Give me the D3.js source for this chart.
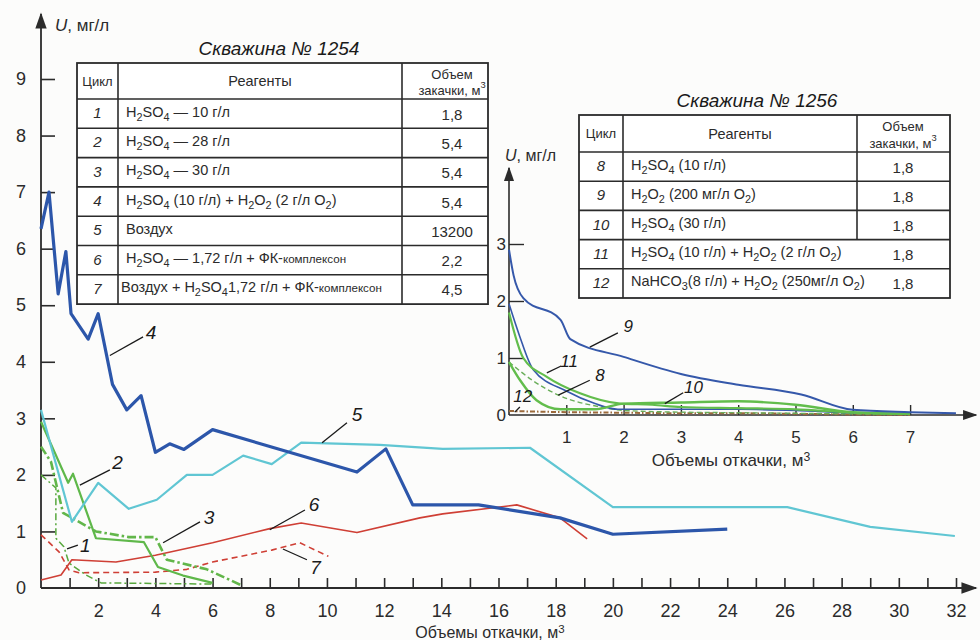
<!DOCTYPE html>
<html>
<head>
<meta charset="utf-8">
<script src="https://cdn.jsdelivr.net/npm/d3@7"></script>
<style>
  body { margin: 0; background: #fcfcfb; }
  svg { font-family: "Liberation Sans", Arial, sans-serif; }
</style>
</head>
<body>
<svg id="chart" width="980" height="640"></svg>
<script>
// ---- well 1254 (main chart), x = m3 pumped, y = U mg/l
var s1 = [[0,2.0],[0.52,1.77],[0.52,0.88],[0.8,0.73],[0.98,0.44],[1.57,0.23],[2.1,0.09],[4,0.08],[6,0.07]];
var s2 = [[0,2.94],[0.95,1.86],[1.12,2.02],[1.92,0.88],[3.6,0.81],[4.09,0.37],[4.97,0.22],[6,0.09]];
var s3 = [[0,2.5],[0.35,2.23],[0.77,1.33],[1.92,1.0],[3.07,0.9],[4.0,0.9],[4.4,0.5],[5.8,0.33],[7.0,0.05]];
var s4 = [[0,6.35],[0.28,7.0],[0.6,5.2],[0.87,5.95],[1.05,4.85],[1.65,4.4],[2.0,4.85],[2.5,3.6],[3.0,3.15],[3.5,3.4],[4.0,2.4],[4.5,2.55],[5.0,2.45],[6.0,2.8],[11.05,2.05],[12.06,2.46],[13.0,1.47],[15.3,1.47],[18.15,1.24],[20.0,0.95],[24.0,1.04]];
var s5 = [[0,3.15],[1.08,1.17],[2.0,1.86],[3.07,1.4],[4.05,1.56],[5.1,2.0],[6.0,2.0],[7.07,2.34],[8.07,2.19],[9.1,2.57],[11.85,2.53],[14.05,2.46],[17.1,2.48],[20.0,1.43],[26.1,1.43],[29.0,1.08],[31.96,0.92]];
var s6 = [[0,0.14],[0.7,0.23],[1.08,0.5],[2.62,0.46],[4.0,0.58],[6.0,0.8],[8.0,1.05],[9.1,1.15],[11.05,0.98],[13.25,1.24],[14.05,1.31],[16.64,1.47],[18.15,1.24],[19.1,0.87]];
var s7 = [[0,0.94],[0.63,0.64],[0.98,0.32],[1.33,0.27],[4.0,0.28],[5.1,0.33],[6.0,0.46],[8.07,0.67],[9.05,0.8],[10.05,0.56]];

// ---- well 1256 (inset chart)
var s8 = [[0,0.93],[0.42,0.6],[0.86,0.35],[1.6,0.14],[2,0.08],[3,0.05],[4,0.04],[5,0.03],[6,0.02],[7,0.01]];
var s9 = [[0,2.9],[0.08,2.45],[0.25,2.05],[0.9,1.67],[1.07,1.33],[2,1.02],[3,0.72],[4,0.53],[5.1,0.36],[6,0.09],[7,0.05],[7.8,0.03]];
var s10 = [[0,0.93],[0.2,0.6],[0.48,0.26],[0.9,0.1],[1.5,0.1],[2,0.2],[3,0.22],[4,0.24],[5,0.18],[6,0.05],[7,0.02]];
var s11 = [[0,1.8],[0.25,1.0],[0.66,0.67],[1.24,0.38],[1.94,0.2],[2.5,0.18],[3,0.14],[4,0.12],[5,0.1],[6,0.04],[7,0.02]];
var s11b = [[0,1.95],[0.18,1.4],[0.42,0.8],[1,0.42],[1.5,0.2],[1.9,0.1],[3,0.1],[4,0.1],[5,0.08],[6,0.04],[7,0.02]];
var s12 = [[0,0.07],[1,0.05],[2,0.04],[3,0.03],[4,0.03],[5,0.02],[6,0.01],[7,0.0]];

// ---- tables
var cycles1254 = ["1","2","3","4","5","6","7"];
var reagents1254 = ["H_2SO_4 — 10 г/л","H_2SO_4 — 28 г/л","H_2SO_4 — 30 г/л","H_2SO_4 (10 г/л) + H_2O_2 (2 г/л O_2)","Воздух","H_2SO_4 — 1,72 г/л + ФК-{комплексон}","Воздух + H_2SO_41,72 г/л + ФК-{комплексон}"];
var volumes1254 = ["1,8","5,4","5,4","5,4","13200","2,2","4,5"];
var cycles1256 = ["8","9","10","11","12"];
var reagents1256 = ["H_2SO_4 (10 г/л)","H_2O_2 (200 мг/л O_2)","H_2SO_4 (30 г/л)","H_2SO_4 (10 г/л) + H_2O_2 (2 г/л O_2)","NaHCO_3(8 г/л) + H_2O_2 (250мг/л O_2)"];
var volumes1256 = ["1,8","1,8","1,8","1,8","1,8"];

// curve labels: [name, anchor on line, leader end, text pos] in data units
var labelsMain = [["4",[2.41,4.11],[3.57,4.44],[3.85,4.52]],["2",[1.36,1.82],[2.41,2.09],[2.68,2.22]],["5",[9.83,2.57],[10.7,2.92],[11.05,3.06]],["6",[8.0,1.03],[9.23,1.38],[9.55,1.48]],["3",[4.27,0.8],[5.56,1.17],[5.88,1.25]],["1",[0.91,0.69],[1.29,0.76],[1.55,0.76]],["7",[8.46,0.69],[9.3,0.5],[9.6,0.37]]];
var labelsInset = [["9",[1.41,1.19],[1.9,1.44],[2.08,1.56]],["11",[0.66,0.74],[0.91,0.86],[1.05,0.93]],["8",[0.86,0.35],[1.41,0.61],[1.59,0.7]],["12",[0.1,0.05],[0.19,0.14],[0.24,0.32]],["10",[2.72,0.2],[3.04,0.39],[3.22,0.49]]];

var svg = d3.select("#chart");
var ink = "#2b2b2b";

svg.append("defs").append("marker").attr("id","arr").attr("viewBox","0 0 10 10").attr("refX",9).attr("refY",5)
  .attr("markerWidth",9).attr("markerHeight",9).attr("orient","auto-start-reverse")
  .append("path").attr("d","M0,1.5 L10,5 L0,8.5 Z").attr("fill",ink);

function rich(text, str) {
  var parts = str.split(/(_\d|\^\d|\{[^}]*\})/).filter(function(s){return s !== "";});
  var shift = 0;
  parts.forEach(function(p) {
    var target = 0, size = null, content = p;
    if (p[0] === "_") { content = p.slice(1); target = 4; size = "0.75em"; }
    else if (p[0] === "^") { content = p.slice(1); target = -5; size = "0.72em"; }
    else if (p[0] === "{") { content = p.slice(1, -1); size = "0.8em"; }
    var ts = text.append("tspan").attr("dy", target - shift).text(content);
    if (size) ts.attr("font-size", size);
    shift = target;
  });
}

// ================= main chart =================
var x = d3.scaleLinear().domain([0, 32]).range([41, 956]);
var y = d3.scaleLinear().domain([0, 9]).range([588, 79]);

var yAxis = d3.axisLeft(y).tickValues(d3.range(0, 10)).tickSizeInner(-14).tickSizeOuter(0).tickPadding(15);
var gy = svg.append("g").attr("transform", "translate(" + x(0) + ",0)").call(yAxis);
var xAxis = d3.axisBottom(x).tickValues(d3.range(1, 33)).tickSizeInner(-10).tickSizeOuter(0).tickPadding(16)
  .tickFormat(function(d){ return d % 2 === 0 ? d : ""; });
var gx = svg.append("g").attr("transform", "translate(0," + y(0) + ")").call(xAxis);
[gx, gy].forEach(function(g) {
  g.select(".domain").remove();
  g.selectAll("line").attr("stroke", ink).attr("stroke-width", 1.6);
  g.selectAll("text").attr("fill", ink).style("font-size", "18px").style("font-family", "Liberation Sans, Arial, sans-serif");
});
gy.selectAll(".tick").filter(function(d){return d === 0;}).select("line").remove();

svg.append("line").attr("x1", x(0)).attr("y1", y(0)).attr("x2", x(0)).attr("y2", 14)
  .attr("stroke", ink).attr("stroke-width", 1.8).attr("marker-end", "url(#arr)");
svg.append("line").attr("x1", x(0)).attr("y1", y(0)).attr("x2", 976).attr("y2", y(0))
  .attr("stroke", ink).attr("stroke-width", 1.8).attr("marker-end", "url(#arr)");

var uLabel = svg.append("text").attr("x", 55).attr("y", 31).attr("fill", ink).style("font-size", "17px");
uLabel.append("tspan").attr("font-style", "italic").text("U");
uLabel.append("tspan").text(", мг/л");

var xLabel = svg.append("text").attr("x", 490).attr("y", 638).attr("text-anchor", "middle").attr("fill", ink).style("font-size", "16px");
rich(xLabel, "Объемы откачки, м^3");

var line = d3.line().x(function(d){return x(d[0]);}).y(function(d){return y(d[1]);});
var mainSeries = [
  {data: s7, color: "#cf3f35", width: 1.6, dash: "6,4"},
  {data: s6, color: "#cf3f35", width: 1.6, dash: null},
  {data: s1, color: "#58a83e", width: 1.5, dash: "7,3,2,3"},
  {data: s3, color: "#62b64a", width: 2.6, dash: "9,3,2.5,3"},
  {data: s2, color: "#5fb84a", width: 2.2, dash: null},
  {data: s5, color: "#60c6d3", width: 2.2, dash: null},
  {data: s4, color: "#2c56aa", width: 3.2, dash: null}
];
mainSeries.forEach(function(s) {
  svg.append("path").datum(s.data).attr("d", line).attr("fill", "none")
    .attr("stroke", s.color).attr("stroke-width", s.width).attr("stroke-linejoin", "round")
    .attr("stroke-dasharray", s.dash);
});

function drawLabels(list, xs, ys, size) {
  list.forEach(function(l) {
    svg.append("line").attr("x1", xs(l[1][0])).attr("y1", ys(l[1][1])).attr("x2", xs(l[2][0])).attr("y2", ys(l[2][1]))
      .attr("stroke", "#1a1a1a").attr("stroke-width", 1.3);
    svg.append("text").attr("x", xs(l[3][0])).attr("y", ys(l[3][1])).attr("text-anchor", "middle")
      .attr("dominant-baseline", "central").attr("font-style", "italic").attr("fill", "#1a1a1a")
      .style("font-size", size + "px").text(l[0]);
  });
}
drawLabels(labelsMain, x, y, 19);

// ================= inset chart (well 1256) =================
var xi = d3.scaleLinear().domain([0, 8]).range([509, 967.4]);
var yi = d3.scaleLinear().domain([0, 3]).range([415, 244]);

var yiAxis = d3.axisLeft(yi).tickValues([0, 1, 2, 3]).tickFormat(d3.format("d")).tickSizeInner(-15).tickSizeOuter(0).tickPadding(3);
var giy = svg.append("g").attr("transform", "translate(" + xi(0) + ",0)").call(yiAxis);
var xiAxis = d3.axisBottom(xi).tickValues(d3.range(1, 8)).tickSizeInner(-10).tickSizeOuter(0).tickPadding(16);
var gix = svg.append("g").attr("transform", "translate(0," + yi(0) + ")").call(xiAxis);
[gix, giy].forEach(function(g) {
  g.select(".domain").remove();
  g.selectAll("line").attr("stroke", ink).attr("stroke-width", 1.4);
  g.selectAll("text").attr("fill", ink).style("font-size", "17px").style("font-family", "Liberation Sans, Arial, sans-serif");
});
giy.selectAll(".tick").filter(function(d){return d === 0;}).select("line").remove();

svg.append("line").attr("x1", xi(0)).attr("y1", yi(0)).attr("x2", xi(0)).attr("y2", 168)
  .attr("stroke", ink).attr("stroke-width", 1.6).attr("marker-end", "url(#arr)");
svg.append("line").attr("x1", xi(0)).attr("y1", yi(0)).attr("x2", 976).attr("y2", yi(0))
  .attr("stroke", ink).attr("stroke-width", 1.6).attr("marker-end", "url(#arr)");

var uLabel2 = svg.append("text").attr("x", 505).attr("y", 161).attr("fill", ink).style("font-size", "16px");
uLabel2.append("tspan").attr("font-style", "italic").text("U");
uLabel2.append("tspan").text(", мг/л");

var xLabel2 = svg.append("text").attr("x", 731).attr("y", 466).attr("text-anchor", "middle").attr("fill", ink).style("font-size", "17px");
rich(xLabel2, "Объемы откачки, м^3");

var linei = d3.line().x(function(d){return xi(d[0]);}).y(function(d){return yi(d[1]);}).curve(d3.curveMonotoneX);
var insetSeries = [
  {data: s12, color: "#9b6a3c", width: 2, dash: "5,2,1.5,2"},
  {data: s8, color: "#6aae5a", width: 1.4, dash: "5,3"},
  {data: s11b, color: "#3558aa", width: 1.6, dash: null},
  {data: s10, color: "#62bd4c", width: 2.4, dash: null},
  {data: s11, color: "#62bd4c", width: 2.2, dash: null},
  {data: s9, color: "#3558aa", width: 2, dash: null}
];
insetSeries.forEach(function(s) {
  svg.append("path").datum(s.data).attr("d", linei).attr("fill", "none")
    .attr("stroke", s.color).attr("stroke-width", s.width).attr("stroke-linejoin", "round")
    .attr("stroke-dasharray", s.dash);
});
drawLabels(labelsInset, xi, yi, 17);

// ================= tables =================
function drawTable(opt) {
  var g = svg.append("g");
  var n = opt.cycles.length;
  var rowY = function(i){ return opt.top + opt.headH + i * opt.rowH; };
  var bottom = rowY(n);
  g.append("rect").attr("x", opt.cols[0]).attr("y", opt.top).attr("width", opt.cols[3] - opt.cols[0])
    .attr("height", bottom - opt.top).attr("fill", "#ffffff").attr("stroke", ink).attr("stroke-width", 1.8);
  for (var i = 0; i < n; i++) {
    g.append("line").attr("x1", opt.cols[0]).attr("x2", opt.cols[3]).attr("y1", rowY(i)).attr("y2", rowY(i))
      .attr("stroke", ink).attr("stroke-width", 1.6);
  }
  g.append("line").attr("x1", opt.cols[1]).attr("x2", opt.cols[1]).attr("y1", opt.top).attr("y2", bottom).attr("stroke", ink).attr("stroke-width", 1.6);
  g.append("line").attr("x1", opt.cols[2]).attr("x2", opt.cols[2]).attr("y1", opt.top).attr("y2", rowY(opt.splitRows)).attr("stroke", ink).attr("stroke-width", 1.6);

  svg.append("text").attr("x", opt.titleX).attr("y", opt.top - 8).attr("text-anchor", "middle").attr("font-style", "italic")
    .attr("fill", "#1a1a1a").style("font-size", "19px").text(opt.title);

  var hy = opt.top + opt.headH / 2;
  g.append("text").attr("x", (opt.cols[0] + opt.cols[1]) / 2).attr("y", hy).attr("dominant-baseline", "central")
    .attr("text-anchor", "middle").style("font-size", "13px").attr("fill", ink).text("Цикл");
  g.append("text").attr("x", (opt.cols[1] + opt.cols[2]) / 2).attr("y", hy).attr("dominant-baseline", "central")
    .attr("text-anchor", "middle").style("font-size", "14.5px").attr("fill", ink).text("Реагенты");
  g.append("text").attr("x", opt.volX).attr("y", hy - 7).attr("dominant-baseline", "central")
    .attr("text-anchor", "middle").style("font-size", "13px").attr("fill", ink).text("Объем");
  var h2 = g.append("text").attr("x", opt.volX).attr("y", hy + 9).attr("dominant-baseline", "central")
    .attr("text-anchor", "middle").style("font-size", "13px").attr("fill", ink);
  rich(h2, "закачки, м^3");

  opt.cycles.forEach(function(c, i) {
    var cy = rowY(i) + opt.rowH / 2 - 1;
    g.append("text").attr("x", (opt.cols[0] + opt.cols[1]) / 2).attr("y", cy).attr("dominant-baseline", "central")
      .attr("text-anchor", "middle").attr("font-style", "italic").style("font-size", "15px").attr("fill", ink).text(c);
    var t = g.append("text").attr("x", opt.cols[1] + (i === opt.tightRow ? 3 : 8)).attr("y", cy + 4)
      .style("font-size", "14.5px").attr("fill", ink);
    rich(t, opt.reagents[i]);
    g.append("text").attr("x", opt.volX).attr("y", cy + 7).attr("text-anchor", "middle")
      .style("font-size", "15px").attr("fill", ink).text(opt.volumes[i]);
  });
}

drawTable({title: "Скважина № 1254", titleX: 279, top: 63, headH: 36, rowH: 29.3,
  cols: [77, 118, 402, 488], volX: 452, splitRows: 7, tightRow: 6,
  cycles: cycles1254, reagents: reagents1254, volumes: volumes1254});
drawTable({title: "Скважина № 1256", titleX: 757, top: 115, headH: 37, rowH: 29.2,
  cols: [579, 623, 857, 950], volX: 903, splitRows: 3, tightRow: -1,
  cycles: cycles1256, reagents: reagents1256, volumes: volumes1256});
</script>
</body>
</html>
